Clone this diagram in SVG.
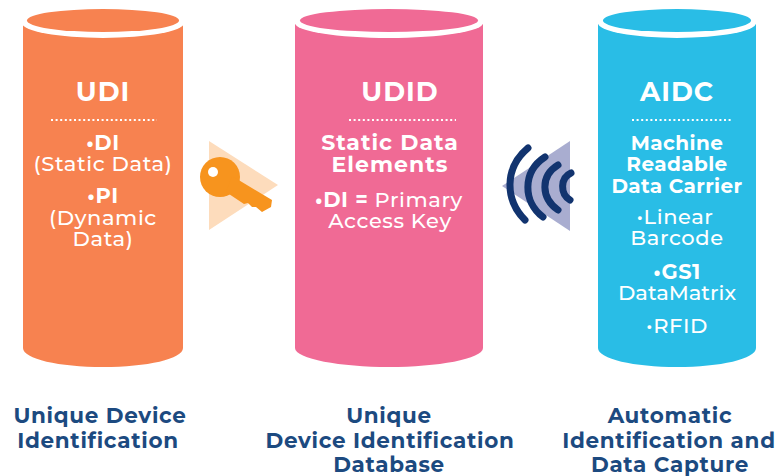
<svg xmlns="http://www.w3.org/2000/svg" width="777" height="476" viewBox="0 0 777 476">
<style>
text{font-family:"Montserrat","Lato","Liberation Sans",sans-serif;text-anchor:middle}
.t{fill:#fff;font-size:26.5px;font-weight:700;letter-spacing:1px}
.w{fill:#fff;font-size:21px;font-weight:500;letter-spacing:.6px}
.b{fill:#fff;font-size:22px;font-weight:700;letter-spacing:1px}
.m{fill:#fff;font-size:20px;font-weight:700;letter-spacing:.4px}
.c{fill:#1c4a80;font-size:21.5px;font-weight:700;letter-spacing:.7px}
.d{stroke:#fff;stroke-width:2;stroke-dasharray:2 2.6;fill:none}
.arc{fill:none;stroke:#12346f;stroke-width:7;stroke-linecap:round}
</style>
<rect width="777" height="476" fill="#fff"/>
<g id="udi">
<path d="M23 24H183V348C183 359 147 367 103 367S23 359 23 348Z" fill="#f78250"/>
<ellipse cx="103" cy="23" rx="81" ry="15" fill="#fff"/>
<ellipse cx="103" cy="20.500" rx="76" ry="11.500" fill="#f78250"/>
<text class="t" x="103" y="101">UDI</text>
<path class="d" d="M51 120H157"/>
<text class="w" x="103" y="150"><tspan font-weight="700">•DI</tspan></text>
<text class="w" x="103" y="171">(Static Data)</text>
<text class="w" x="103" y="203"><tspan font-weight="700">•PI</tspan></text>
<text class="w" x="103" y="225">(Dynamic</text>
<text class="w" x="103" y="246">Data)</text>
</g>
<g id="udid">
<path d="M295 24H483V348C483 359 437 367 389 367S295 359 295 348Z" fill="#f06a95"/>
<ellipse cx="389" cy="23" rx="94" ry="15" fill="#fff"/>
<ellipse cx="389" cy="20.500" rx="89" ry="11.500" fill="#f06a95"/>
<text class="t" x="400" y="101">UDID</text>
<path class="d" d="M349 120H456"/>
<text class="b" x="390" y="150">Static Data</text>
<text class="b" x="390" y="172">Elements</text>
<text class="w" x="389" y="207"><tspan font-weight="700">•DI =</tspan> Primary</text>
<text class="w" x="390" y="228">Access Key</text>
</g>
<g id="aidc">
<path d="M598 24H756V348C756 359 720 367 677 367S598 359 598 348Z" fill="#29bde6"/>
<ellipse cx="677" cy="23" rx="79" ry="15" fill="#fff"/>
<ellipse cx="677" cy="20.500" rx="74" ry="11.500" fill="#29bde6"/>
<text class="t" x="677" y="101">AIDC</text>
<path class="d" d="M632 120H731"/>
<text class="m" x="677" y="150">Machine</text>
<text class="m" x="677" y="171">Readable</text>
<text class="m" x="677" y="193">Data Carrier</text>
<text class="w" x="675" y="224">•Linear</text>
<text class="w" x="677" y="245">Barcode</text>
<text class="w" x="677" y="279"><tspan font-weight="700">•GS1</tspan></text>
<text class="w" x="677" y="300" style="letter-spacing:0">DataMatrix</text>
<text class="w" x="677" y="333">•RFID</text>
</g>
<g id="key-icon">
<path d="M209 141L278 185L209 230Z" fill="#fddcbc"/>
<circle cx="220" cy="177" r="20" fill="#f7941e"/>
<path d="M232 176L272 200L271 207L262 212L256 207L252 207L248 203L244 204L226 192Z" fill="#f7941e"/>
<circle cx="213" cy="172" r="5" fill="#fff"/>
</g>
<g id="wave-icon">
<path d="M570 141V231L502 186Z" fill="#a9add0"/>
<path class="arc" d="M528 148C504 168 505 200 525 220"/>
<path class="arc" d="M545 157C522 172 523 202 543 217"/>
<path class="arc" d="M558 165C540 176 541 198 558 210"/>
<path class="arc" d="M571 173C560 178 560 194 570 200"/>
</g>
<g id="captions">
<text class="c" x="100" y="423">Unique Device</text>
<text class="c" x="98" y="448">Identification</text>
<text class="c" x="389" y="423">Unique</text>
<text class="c" x="390" y="448">Device Identification</text>
<text class="c" x="389" y="472">Database</text>
<text class="c" x="670" y="423">Automatic</text>
<text class="c" x="669" y="448">Identification and</text>
<text class="c" x="670" y="472">Data Capture</text>
</g>
</svg>
